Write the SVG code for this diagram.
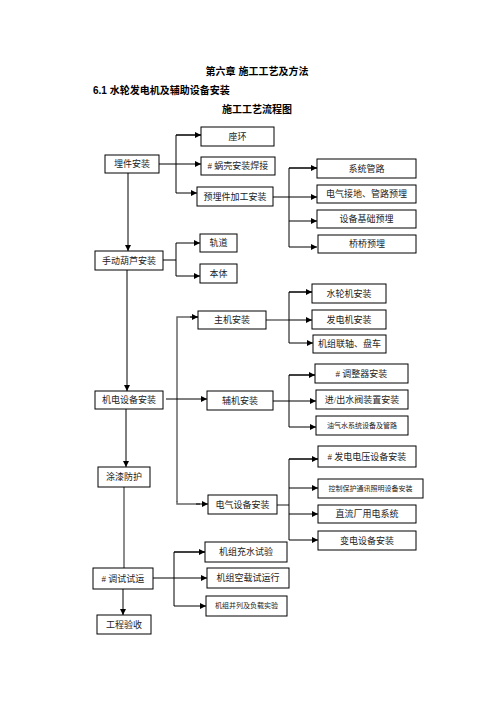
<svg xmlns="http://www.w3.org/2000/svg" width="496" height="702" viewBox="0 0 496 702">
<style>
.b{fill:#fff;stroke:#000;stroke-width:1}
.t{font-family:"Liberation Serif","Noto Sans CJK SC",serif;font-size:9px;fill:#222;text-anchor:middle;dominant-baseline:central}
.s{font-size:7px}
.h{font-family:"Liberation Sans","Noto Sans CJK SC",sans-serif;font-weight:bold;font-size:10px;fill:#000}
.c path{fill:none;stroke:#000;stroke-width:1}
.c .g{stroke:#666;stroke-width:1.5}
</style>
<defs>
<marker id="a" viewBox="0 0 10 10" refX="10" refY="5" markerWidth="6" markerHeight="6" orient="auto" markerUnits="userSpaceOnUse"><path d="M0,0L10,5L0,10z" fill="#000"/></marker>
</defs>
<rect width="496" height="702" fill="#fff"/>
<text class="h" x="257" y="75" text-anchor="middle">第六章  施工工艺及方法</text>
<text class="h" x="93" y="94">6.1 水轮发电机及辅助设备安装</text>
<text class="h" x="257" y="113" text-anchor="middle">施工工艺流程图</text>
<g class="c">
<path d="M159,164H201" marker-end="url(#a)"/>
<path d="M201,135H176V193H197" marker-end="url(#a)"/>
<path d="M176,135H201" marker-end="url(#a)"/>
<path d="M273,197H317" marker-end="url(#a)"/>
<path d="M317,168H289V247H317" marker-end="url(#a)"/>
<path d="M289,168H317" marker-end="url(#a)"/>
<path d="M289,221H317" marker-end="url(#a)"/>
<path d="M128,173V251" marker-end="url(#a)"/>
<path d="M163,260H176"/>
<path d="M176,243V276H200" marker-end="url(#a)"/>
<path d="M176,243H200" marker-end="url(#a)"/>
<path d="M127,270V391" marker-end="url(#a)"/>
<path class="g" d="M177,502V317H198"/>
<path d="M190,317H198" marker-end="url(#a)"/>
<path class="g" d="M266,320H289"/>
<path d="M289,320H312" marker-end="url(#a)"/>
<path d="M312,292H289V343H313" marker-end="url(#a)"/>
<path d="M289,292H312" marker-end="url(#a)"/>
<path d="M166,399H207" marker-end="url(#a)"/>
<path d="M273,401H316" marker-end="url(#a)"/>
<path d="M315,375H289V427H316" marker-end="url(#a)"/>
<path d="M289,375H315" marker-end="url(#a)"/>
<path d="M126,409V467" marker-end="url(#a)"/>
<path class="g" d="M177,501V504H200"/>
<path d="M196,504H208" marker-end="url(#a)"/>
<path class="g" d="M277,505H289"/>
<path d="M318,459H289V540H318" marker-end="url(#a)"/>
<path d="M289,459H318" marker-end="url(#a)"/>
<path d="M289,488H318" marker-end="url(#a)"/>
<path d="M289,514H318" marker-end="url(#a)"/>
<path class="g" d="M124,487V568"/>
<path d="M153,578H207" marker-end="url(#a)"/>
<path d="M205,552H174V606H206" marker-end="url(#a)"/>
<path d="M174,552H205" marker-end="url(#a)"/>
<path d="M123,589V615" marker-end="url(#a)"/>
</g>
<g id="n1"><rect class="b" x="201" y="127" width="73" height="19"/><text class="t" x="237.5" y="136.5">座环</text></g>
<g id="n2"><rect class="b" x="105" y="155" width="54" height="18"/><text class="t" x="132" y="164">埋件安装</text></g>
<g id="n3"><rect class="b" x="201" y="157" width="74" height="18"/><text class="t" x="238" y="166"># 蜗壳安装焊接</text></g>
<g id="n4"><rect class="b" x="197" y="187" width="76" height="19"/><text class="t" x="235" y="196.5">预埋件加工安装</text></g>
<g id="n5"><rect class="b" x="317" y="159" width="99" height="19"/><text class="t" x="366.5" y="168.5">系统管路</text></g>
<g id="n6"><rect class="b" x="317" y="185" width="99" height="18"/><text class="t" x="366.5" y="194">电气接地、管路预埋</text></g>
<g id="n7"><rect class="b" x="317" y="210" width="99" height="18"/><text class="t" x="366.5" y="219">设备基础预埋</text></g>
<g id="n8"><rect class="b" x="318" y="235" width="98" height="18"/><text class="t" x="367" y="244">桥桥预埋</text></g>
<g id="n9"><rect class="b" x="95" y="251" width="68" height="19"/><text class="t" x="129" y="260.5">手动葫芦安装</text></g>
<g id="n10"><rect class="b" x="200" y="234" width="37" height="18"/><text class="t" x="218.5" y="243">轨道</text></g>
<g id="n11"><rect class="b" x="200" y="264" width="37" height="19"/><text class="t" x="218.5" y="273.5">本体</text></g>
<g id="n12"><rect class="b" x="312" y="284" width="74" height="19"/><text class="t" x="349" y="293.5">水轮机安装</text></g>
<g id="n13"><rect class="b" x="198" y="311" width="68" height="18"/><text class="t" x="232" y="320">主机安装</text></g>
<g id="n14"><rect class="b" x="312" y="310" width="74" height="19"/><text class="t" x="349" y="319.5">发电机安装</text></g>
<g id="n15"><rect class="b" x="313" y="335" width="73" height="18"/><text class="t" x="349.5" y="344">机组联轴、盘车</text></g>
<g id="n16"><rect class="b" x="315" y="364" width="93" height="19"/><text class="t" x="361.5" y="373.5"># 调整器安装</text></g>
<g id="n17"><rect class="b" x="95" y="391" width="68" height="18"/><text class="t" x="129" y="400">机电设备安装</text></g>
<g id="n18"><rect class="b" x="207" y="391" width="66" height="19"/><text class="t" x="240" y="400.5">辅机安装</text></g>
<g id="n19"><rect class="b" x="316" y="390" width="92" height="19"/><text class="t" x="362" y="399.5">进/出水阀装置安装</text></g>
<g id="n20"><rect class="b" x="316" y="416" width="92" height="19"/><text class="t s" x="362" y="425.5">油气水系统设备及管路</text></g>
<g id="n21"><rect class="b" x="318" y="446" width="98" height="21"/><text class="t" x="367" y="456.5"># 发电电压设备安装</text></g>
<g id="n22"><rect class="b" x="98" y="467" width="52" height="20"/><text class="t" x="124" y="477">涂漆防护</text></g>
<g id="n23"><rect class="b" x="318" y="479" width="105" height="19"/><text class="t s" x="370.5" y="488.5">控制保护通讯照明设备安装</text></g>
<g id="n24"><rect class="b" x="208" y="495" width="69" height="19"/><text class="t" x="242.5" y="504.5">电气设备安装</text></g>
<g id="n25"><rect class="b" x="318" y="505" width="98" height="18"/><text class="t" x="367" y="514">直流厂用电系统</text></g>
<g id="n26"><rect class="b" x="318" y="531" width="98" height="19"/><text class="t" x="367" y="540.5">变电设备安装</text></g>
<g id="n27"><rect class="b" x="205" y="542" width="82" height="20"/><text class="t" x="246" y="552">机组充水试验</text></g>
<g id="n28"><rect class="b" x="93" y="568" width="60" height="21"/><text class="t" x="123" y="578.5"># 调试试运</text></g>
<g id="n29"><rect class="b" x="207" y="568" width="82" height="20"/><text class="t" x="248" y="578">机组空载试运行</text></g>
<g id="n30"><rect class="b" x="206" y="596" width="81" height="20"/><text class="t s" x="246.5" y="606">机组并列及负载实验</text></g>
<g id="n31"><rect class="b" x="97" y="615" width="54" height="19"/><text class="t" x="124" y="624.5">工程验收</text></g>
</svg>
